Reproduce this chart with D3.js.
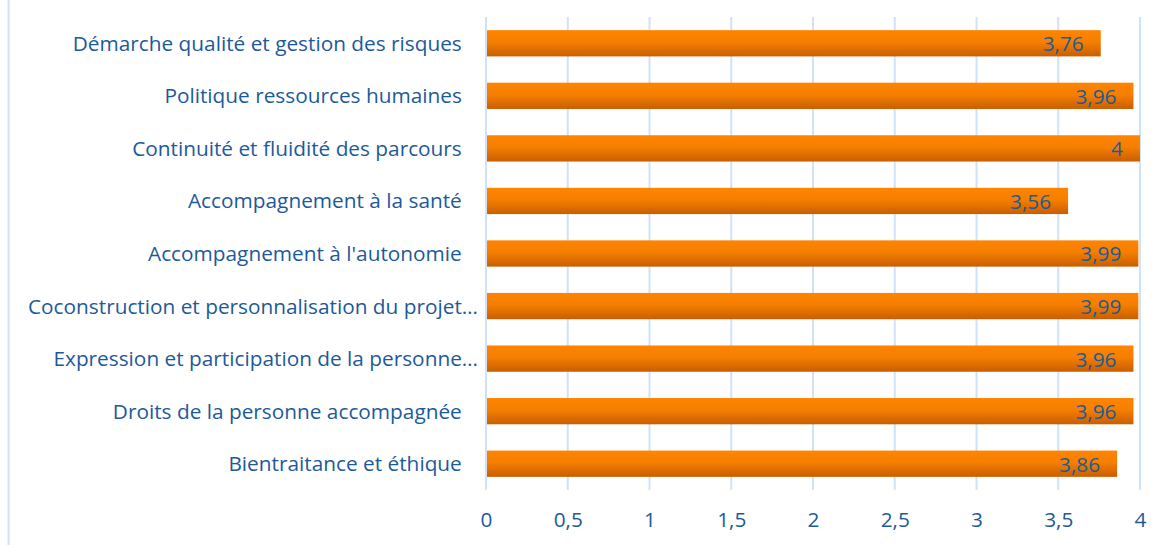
<!DOCTYPE html>
<html>
<head>
<meta charset="utf-8">
<script src="https://cdn.jsdelivr.net/npm/d3@7"></script>
<style>
  body { margin: 0; background: #fff; }
  text { font-family: "Open Sans", sans-serif; fill: #1d5a99; white-space: pre; }
</style>
</head>
<body>
<div class="svgContainer"></div>
<script>
// Data, top bar first
var CATEGORIES = [
    "Démarche qualité et gestion des risques   ",
    "Politique ressources humaines   ",
    "Continuité et fluidité des parcours   ",
    "Accompagnement à la santé   ",
    "Accompagnement à l'autonomie   ",
    "Coconstruction et personnalisation du projet…",
    "Expression et participation de la personne…",
    "Droits de la personne accompagnée   ",
    "Bientraitance et éthique   "
];
var VALUES = [3.76, 3.96, 4, 3.56, 3.99, 3.99, 3.96, 3.96, 3.86];
var TICKS = [0, 0.5, 1, 1.5, 2, 2.5, 3, 3.5, 4];

var W = 1162, H = 545;
var FONT = "20.8px";
var margin = {left: 486, right: 22, top: 17, bottom: 55},
    width = W - margin.left - margin.right,
    height = H - margin.top - margin.bottom;

var svg = d3.select(".svgContainer").append("svg")
    .attr("width", W)
    .attr("height", H);

// gradient for the bars
var grad = svg.append("defs").append("linearGradient")
    .attr("id", "barGrad")
    .attr("x1", 0).attr("y1", 0).attr("x2", 0).attr("y2", 1);
grad.append("stop").attr("offset", "0%").attr("stop-color", "#ff8400");
grad.append("stop").attr("offset", "45%").attr("stop-color", "#f57f00");
grad.append("stop").attr("offset", "100%").attr("stop-color", "#c95e00");

// left border of the chart area
svg.append("line")
    .attr("x1", 8.5).attr("x2", 8.5)
    .attr("y1", 0).attr("y2", H)
    .attr("stroke", "#cfe3f8")
    .attr("stroke-width", 2);

var g = svg.append("g")
    .attr("transform", "translate(" + margin.left + "," + margin.top + ")");

var x = d3.scaleLinear()
    .domain([0, 4])
    .range([0, width]);

var y = d3.scaleBand()
    .domain(CATEGORIES)
    .range([0, height])
    .paddingInner(0.5)
    .paddingOuter(0.25);

// vertical gridlines
g.selectAll(".grid")
    .data(TICKS)
    .enter().append("line")
    .attr("class", "grid")
    .attr("x1", function(d) { return x(d); })
    .attr("x2", function(d) { return x(d); })
    .attr("y1", 0)
    .attr("y2", height)
    .attr("stroke", "#cfe3f8")
    .attr("stroke-width", 2);

// bars
g.selectAll(".bar")
    .data(VALUES)
    .enter().append("rect")
    .attr("class", "bar")
    .attr("x", x(0) + 1)
    .attr("y", function(d, i) { return y(CATEGORIES[i]); })
    .attr("width", function(d) { return x(d) - x(0) - 1; })
    .attr("height", y.bandwidth())
    .attr("fill", "url(#barGrad)");

// value labels inside end
g.selectAll(".val")
    .data(VALUES)
    .enter().append("text")
    .attr("class", "val")
    .attr("x", function(d) { return x(d) - 17; })
    .attr("y", function(d, i) { return y(CATEGORIES[i]) + y.bandwidth() / 2; })
    .attr("dy", "0.38em")
    .attr("text-anchor", "end")
    .attr("font-size", FONT)
    .text(function(d) { return d3.format("")(d).replace(".", ","); });

// category axis
var yAxis = g.append("g")
    .call(d3.axisLeft(y).tickSize(0).tickPadding(8));
yAxis.select(".domain").remove();
yAxis.selectAll("text")
    .attr("font-size", FONT)
    .attr("font-family", null)
    .attr("fill", null)
    .attr("dy", "0.36em");

// value axis
var xAxis = g.append("g")
    .attr("transform", "translate(0," + height + ")")
    .call(d3.axisBottom(x).tickValues(TICKS).tickSize(0).tickPadding(22)
        .tickFormat(function(d) { return String(d).replace(".", ","); }));
xAxis.select(".domain").remove();
xAxis.selectAll("text")
    .attr("font-size", FONT)
    .attr("font-family", null)
    .attr("fill", null);
</script>
</body>
</html>
